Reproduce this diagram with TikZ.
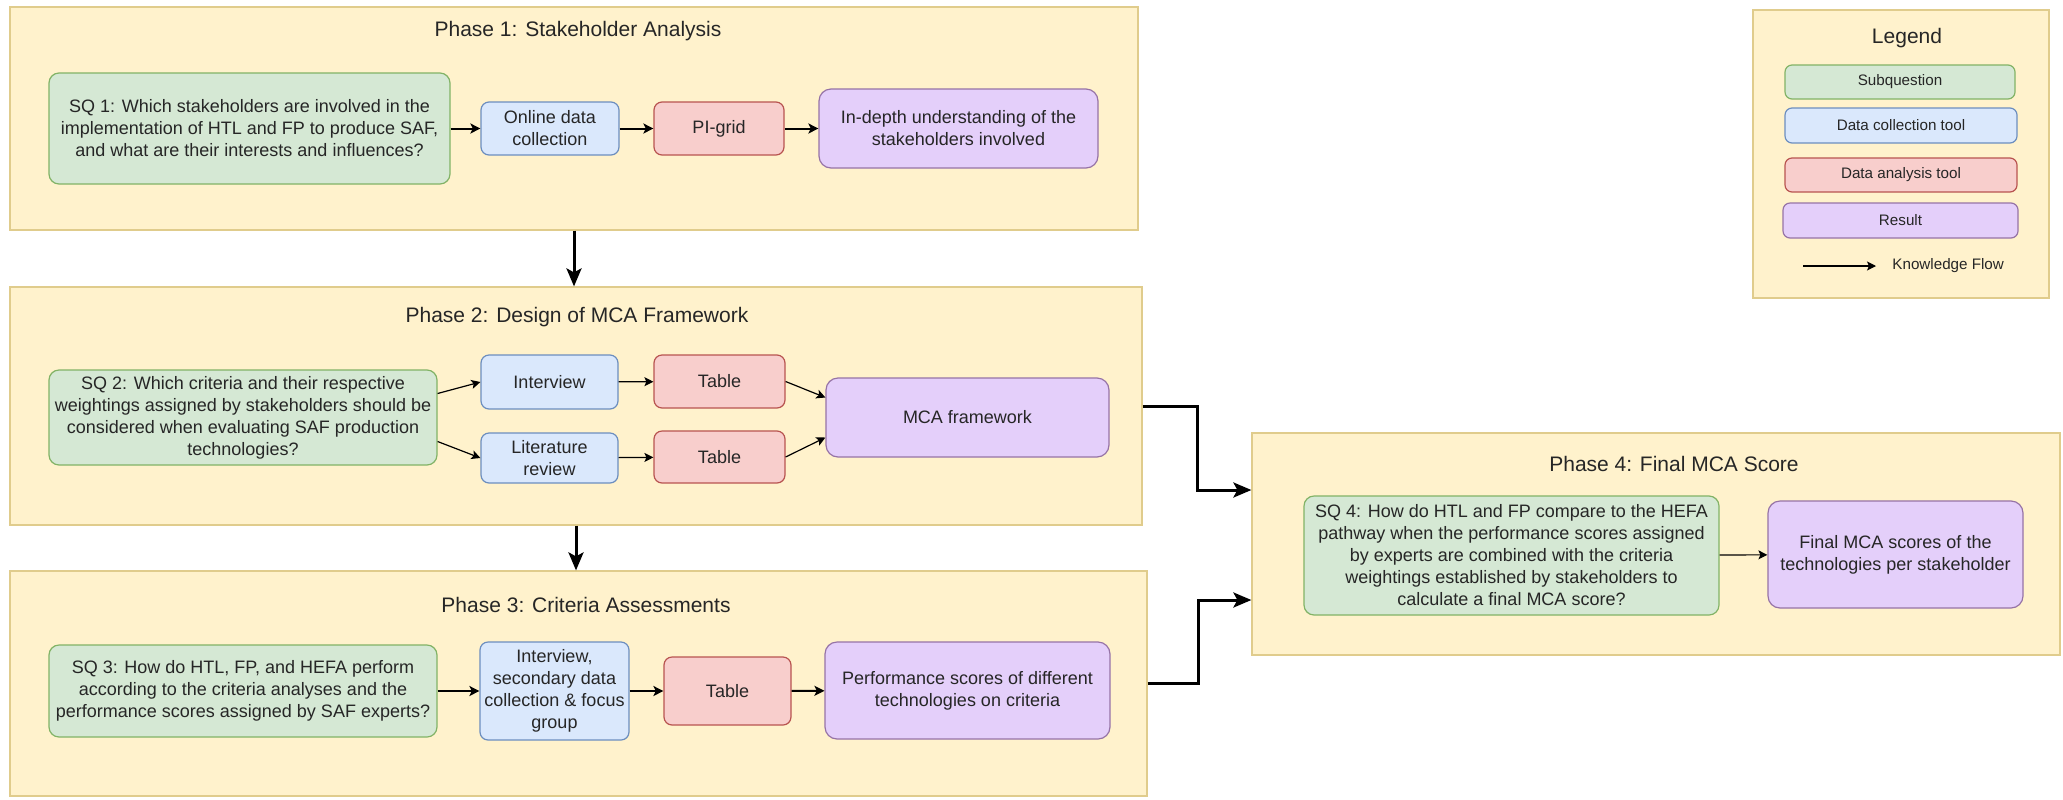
\documentclass[tikz,border=0pt]{standalone}
\usepackage{fontspec}
\setmainfont{Liberation Sans}
\usetikzlibrary{arrows.meta,calc}

\definecolor{phasefill}{HTML}{FFF2CC}
\definecolor{phaseline}{HTML}{E0CC8C}
\definecolor{sqfill}{HTML}{D5E8D4}
\definecolor{sqline}{HTML}{82B366}
\definecolor{colfill}{HTML}{DAE8FC}
\definecolor{colline}{HTML}{6C8EBF}
\definecolor{anfill}{HTML}{F8CECC}
\definecolor{anline}{HTML}{B85450}
\definecolor{resfill}{HTML}{E4CFFA}
\definecolor{resline}{HTML}{9673A6}
\definecolor{ink}{HTML}{262626}

\tikzset{
  sz/.style 2 args={minimum width={#1*0.5pt}, minimum height={#2*0.5pt}},
  phase/.style={rectangle, draw=phaseline, fill=phasefill, line width=0.6pt, inner sep=0pt},
  card/.style={rectangle, rounded corners=5pt, draw, line width=0.6pt, align=center,
    inner sep=0pt, text=ink, font=\fontsize{9}{11}\selectfont},
  sqbox/.style={card, fill=sqfill, draw=sqline},
  colbox/.style={card, fill=colfill, draw=colline, rounded corners=4pt},
  anbox/.style={card, fill=anfill, draw=anline, rounded corners=4pt},
  resbox/.style={card, fill=resfill, draw=resline, rounded corners=6pt},
  keybox/.style={card, rounded corners=3.5pt, font=\fontsize{7.6}{9}\selectfont},
  title/.style={text=ink, font=\fontsize{10.5}{12.6}\selectfont, inner sep=0pt},
  flow/.style={draw=black, line width=1pt, -{Stealth[length=5pt, width=5pt, inset=1.2pt]}},
  thinflow/.style={draw=black, line width=0.6pt, -{Stealth[length=4.5pt, width=4.5pt, inset=1pt]}},
  bigflow/.style={draw=black, line width=1.5pt, -{Stealth[length=9pt, width=7.5pt, inset=2pt]}},
}

\begin{document}
\begin{tikzpicture}[x=0.5pt, y=-0.5pt]
\useasboundingbox (0,0) rectangle (2063,799);
\fill[white] (0,0) rectangle (2063,799);

% phase containers
\node[phase, sz={1128}{223}] (p1) at (574,118.5) {};
\node[phase, sz={1132}{238}] (p2) at (576,406) {};
\node[phase, sz={1137}{225}] (p3) at (578.5,683.5) {};
\node[phase, sz={808}{222}] (p4) at (1656,544) {};
\node[phase, sz={296}{288}] (leg) at (1901,154) {};

\node[title] (t1) at (578,31) {Phase 1: Stakeholder Analysis};
\node[title] (t2) at (577,317) {Phase 2: Design of MCA Framework};
\node[title] (t3) at (586,605) {Phase 3: Criteria Assessments};
\node[title] (t4) at (1674,464) {Phase 4: Final MCA Score};
\node[title] (tl) at (1907,38) {Legend};

% phase 1
\node[sqbox, sz={401}{111}] (sq1) at (249.5,128.5)
  {SQ 1: Which stakeholders are involved in the\\implementation of HTL and FP to produce SAF,\\and what are their interests and influences?};
\node[colbox, sz={138}{53}] (odc) at (550,128.5) {Online data\\collection};
\node[anbox, sz={130}{53}] (pig) at (719,128.5) {PI-grid};
\node[resbox, sz={279}{79}] (ind) at (958.5,128.5) {In-depth understanding of the\\stakeholders involved};

% phase 2
\node[sqbox, sz={388}{95}] (sq2) at (243,417.5)
  {SQ 2: Which criteria and their respective\\weightings assigned by stakeholders should be\\considered when evaluating SAF production\\technologies?};
\node[colbox, sz={137}{54}] (int) at (549.5,382) {Interview};
\node[colbox, sz={137}{50}] (lit) at (549.5,458) {Literature\\review};
\node[anbox, sz={131}{53}] (tb1) at (719.5,381.5) {Table};
\node[anbox, sz={131}{52}] (tb2) at (719.5,457) {Table};
\node[resbox, sz={283}{79}] (mca) at (967.5,417.5) {MCA framework};

% phase 3
\node[sqbox, sz={388}{92}] (sq3) at (243,691)
  {SQ 3: How do HTL, FP, and HEFA perform\\according to the criteria analyses and the\\performance scores assigned by SAF experts?};
\node[colbox, sz={149}{98}] (isd) at (554.5,691) {Interview,\\secondary data\\collection \& focus\\group};
\node[anbox, sz={127}{68}] (tb3) at (727.5,691) {Table};
\node[resbox, sz={285}{97}] (prf) at (967.5,690.5) {Performance scores of different\\technologies on criteria};

% phase 4
\node[sqbox, sz={415}{119}] (sq4) at (1511.5,555.5)
  {SQ 4: How do HTL and FP compare to the HEFA\\pathway when the performance scores assigned\\by experts are combined with the criteria\\weightings established by stakeholders to\\calculate a final MCA score?};
\node[resbox, sz={255}{107}] (fin) at (1895.5,554.5) {Final MCA scores of the\\technologies per stakeholder};

% legend entries
\node[keybox, fill=sqfill, draw=sqline, sz={230}{34}] (k1) at (1900,82) {Subquestion};
\node[keybox, fill=colfill, draw=colline, sz={232}{35}] (k2) at (1901,125.5) {Data collection tool};
\node[keybox, fill=anfill, draw=anline, sz={232}{34}] (k3) at (1901,175) {Data analysis tool};
\node[keybox, fill=resfill, draw=resline, sz={235}{35}] (k4) at (1900.5,220.5) {Result};
\coordinate (ka) at (1803,266);
\coordinate (kb) at (1876,266);
\node[anchor=west, inner sep=0pt, text=ink, font=\fontsize{7.6}{9}\selectfont] (kt) at (1892,266) {Knowledge Flow};
\draw[thinflow] (ka) -- (kb);

% flows inside phase 1
\draw[flow] (sq1) -- (odc);
\draw[flow] (odc) -- (pig);
\draw[flow] (pig) -- (ind);

% flows inside phase 2
\draw[thinflow] ($(sq2.east)+(0,-24)$) -- (int.west);
\draw[thinflow] ($(sq2.east)+(0,24)$) -- (lit.west);
\draw[thinflow] (int) -- (tb1);
\draw[thinflow] (lit) -- (tb2);
\draw[thinflow] (tb1.east) -- ($(mca.west)+(0,-20)$);
\draw[thinflow] (tb2.east) -- ($(mca.west)+(0,20)$);

% flows inside phase 3
\draw[flow] (sq3) -- (isd);
\draw[flow] (isd) -- (tb3);
\draw[flow] (tb3) -- (prf);

% flow inside phase 4
\draw[thinflow] (sq4) -- (fin);

% flows between phases
\draw[bigflow] (p1.south) -- (p1.south |- p2.north);
\draw[bigflow] (p2.south) -- (p2.south |- p3.north);
\coordinate (e1) at ($(p4.west)+(0,-54)$);
\coordinate (e2) at ($(p4.west)+(0,56)$);
\coordinate (x1) at (1197,0);
\coordinate (x2) at (1198,0);
\draw[bigflow] (p2.east) -| (x1 |- e1) -- (e1);
\draw[bigflow] (p3.east) -| (x2 |- e2) -- (e2);
\end{tikzpicture}
\end{document}
